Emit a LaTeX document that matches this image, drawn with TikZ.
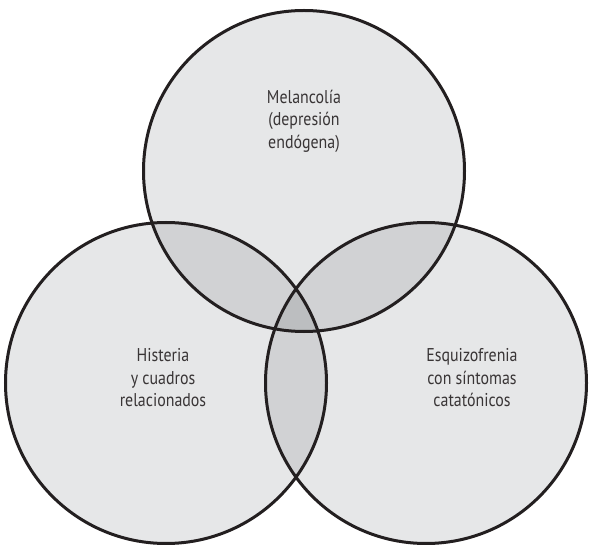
\documentclass[tikz,border=0pt]{standalone}
\usepackage{fontspec}
\setmainfont{PT Sans}[FakeStretch=0.86]
\definecolor{one}{HTML}{E6E7E8}
\definecolor{two}{HTML}{D1D2D4}
\definecolor{three}{HTML}{BCBEC0}
\definecolor{ink}{HTML}{231F20}
\begin{document}
\begin{tikzpicture}[x=1pt,y=-1pt,
  ring/.style={draw=ink,line width=3pt},
  label/.style={align=center,font=\fontsize{18.5}{22.5}\selectfont,text=ink!90}]
\useasboundingbox (0,0) rectangle (589,545);
\coordinate (T) at (304,171);
\coordinate (L) at (166,383);
\coordinate (R) at (426,383);
\def\rad{160.5}
\fill[one] (T) circle (\rad);
\fill[one] (L) circle (\rad);
\fill[one] (R) circle (\rad);
\begin{scope}\clip (T) circle (\rad); \fill[two] (L) circle (\rad); \fill[two] (R) circle (\rad); \end{scope}
\begin{scope}\clip (L) circle (\rad); \fill[two] (R) circle (\rad); \end{scope}
\begin{scope}\clip (T) circle (\rad); \clip (L) circle (\rad); \fill[three] (R) circle (\rad); \end{scope}
\draw[ring] (T) circle (\rad);
\draw[ring] (L) circle (\rad);
\draw[ring] (R) circle (\rad);
\node[label] (mel) at (304,121) {Melancolía\\(depresión\\endógena)};
\node[label] (his) at (163,378) {Histeria\\y cuadros\\relacionados};
\node[label] (esq) at (472,378) {Esquizofrenia\\con síntomas\\catatónicos};
\end{tikzpicture}
\end{document}
